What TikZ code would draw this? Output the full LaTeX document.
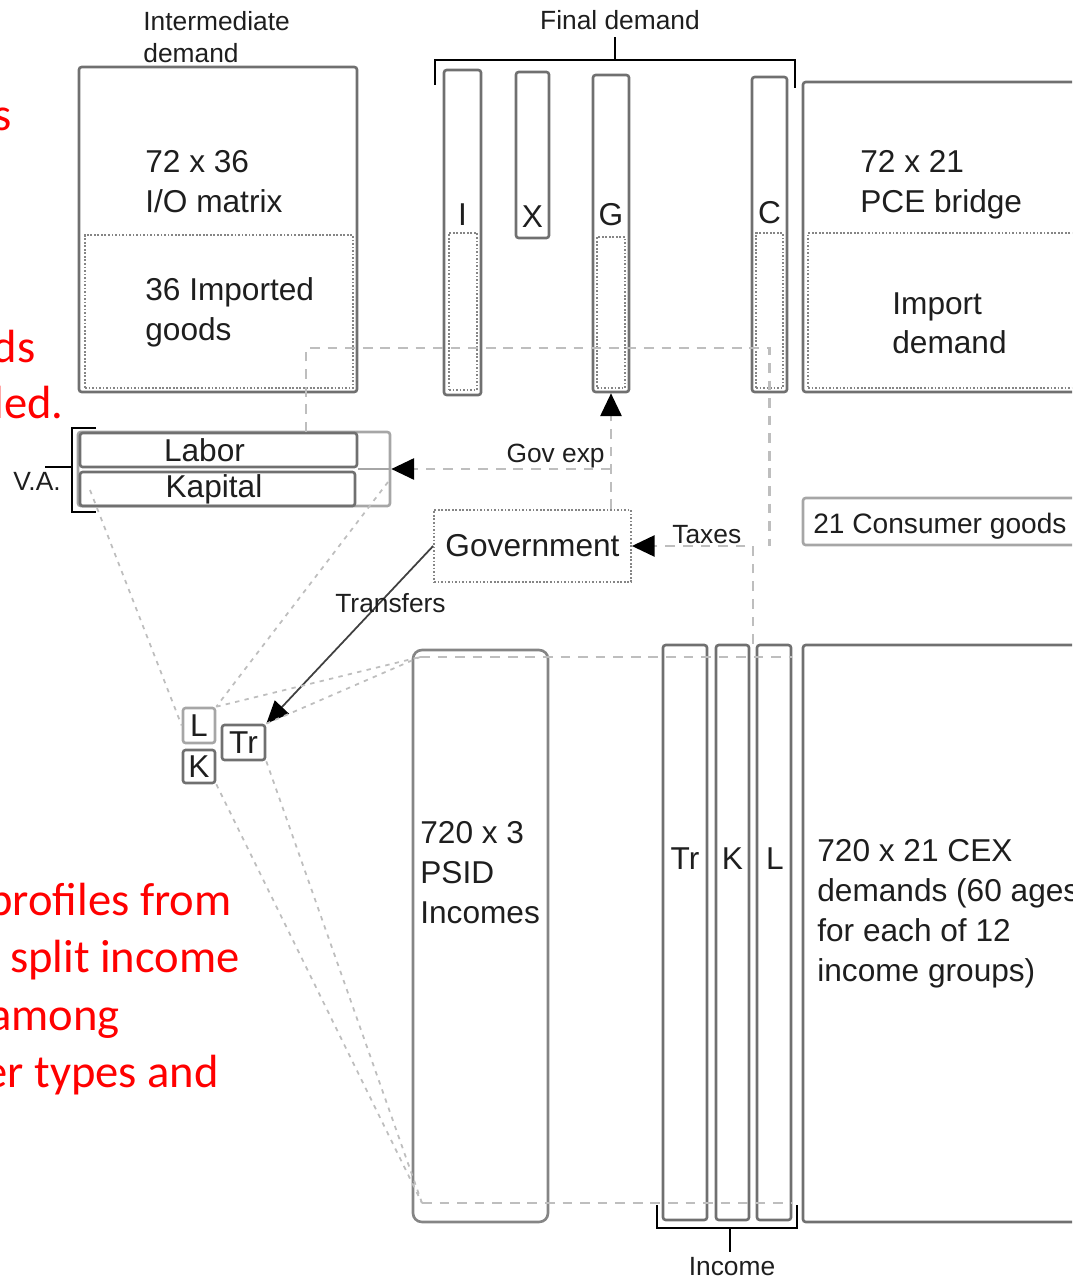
\documentclass[tikz,border=0pt]{standalone}
\usepackage{fontspec}
\setmainfont{Liberation Sans}
\newfontfamily\slidefont{Carlito}
\usetikzlibrary{arrows.meta,positioning,calc}
\definecolor{Ink}{HTML}{1E1E1E}
\definecolor{Frame}{HTML}{707070}
\definecolor{Soft}{HTML}{A6A6A6}
\definecolor{Link}{HTML}{BEBEBE}
\definecolor{Note}{HTML}{FF0000}
\tikzset{mat/.style={draw=Frame,line width=1.5pt,rounded corners=1.5pt,inner sep=0pt},imp/.style={draw=Frame!85,densely dotted,line width=1pt,inner sep=0pt},txt/.style={font=\fontsize{18}{22.7}\selectfont,text=Ink,inner sep=0pt,align=left},lab/.style={font=\fontsize{15}{18.1}\selectfont,text=Ink,inner sep=0pt,align=left},lnk/.style={draw=Link,line width=1.5pt,dash pattern=on 5.5pt off 4.5pt},fan/.style={draw=Link,line width=1pt,dash pattern=on 2.5pt off 3pt},tip/.style={-{Triangle[length=13pt,width=12pt,color=black]}},brk/.style={draw=black,line width=1.3pt},note/.style={font=\slidefont\fontsize{26.5}{32}\selectfont,text=Note,inner sep=0pt,anchor=base east}}

\begin{document}
\begin{tikzpicture}[x=0.02cm,y=-0.02cm]
\useasboundingbox (0,0) rectangle (1072,1277);
\clip (0,0) rectangle (1072,1277);
\node[note] (n1) at (12,131) {s};
\node[note] (n2) at (36,362) {ds};
\node[note] (n3) at (64,418) {led.};
\node[note] (n4) at (232,915) {profiles from};
\node[note] (n5) at (240,972) {split income};
\node[note] (n6) at (120,1030) {among};
\node[note] (n7) at (219,1087) {er types and};

\node[lab,anchor=north west] (inter) at (143,11) {Intermediate\\demand};
\node[mat,minimum width=5.56cm,minimum height=6.5cm] (io) at (218,229.5) {};
\node[imp,minimum width=5.36cm,minimum height=3.06cm] (ioimp) at (219,311.5) {};
\node[txt,anchor=north west] (iotxt) at (145,150) {72 x 36\\I/O matrix};
\node[txt,anchor=north west] (imptxt) at (145,277) {36 Imported\\goods};

\node[lab,anchor=base] (final) at (620,30) {Final demand};
\draw[brk] (435,85) -- (435,60) -- (795,60) -- (795,88);
\draw[brk] (615,60) -- (615,37);
\node[mat,minimum width=.74cm,minimum height=6.5cm] (colI) at (462.5,232.5) {};
\node[imp,minimum width=.56cm,minimum height=3.14cm] (impI) at (463,311.5) {};
\node[mat,minimum width=.66cm,minimum height=3.32cm] (colX) at (532.5,155) {};
\node[mat,minimum width=.72cm,minimum height=6.34cm] (colG) at (611,233.5) {};
\node[imp,minimum width=.56cm,minimum height=3.02cm] (impG) at (611,312.5) {};
\node[mat,minimum width=.70cm,minimum height=6.3cm] (colC) at (769.5,234.5) {};
\node[imp,minimum width=.54cm,minimum height=3.1cm] (impC) at (769.5,310.5) {};
\node[txt,anchor=base] (tI) at (462.5,225) {I};
\node[txt,anchor=base] (tX) at (532.5,228) {X};
\node[txt,anchor=base] (tG) at (611,226) {G};
\node[txt,anchor=base] (tC) at (769.5,223) {C};

\node[mat,minimum width=5.74cm,minimum height=6.2cm] (pce) at (946.5,237) {};
\node[imp,minimum width=5.64cm,minimum height=3.1cm] (pceimp) at (949,310.5) {};
\node[txt,anchor=north west] (pcetxt) at (860,150) {72 x 21\\PCE bridge};
\node[txt,anchor=north west] (imdtxt) at (892,292) {Import\\demand};

\node[mat,draw=Soft,minimum width=6.24cm,minimum height=1.48cm] (va) at (234,469) {};
\node[mat,txt,minimum width=5.54cm,minimum height=.68cm] (labor) at (218.5,450) {Labor\hspace{16pt}};
\node[mat,txt,minimum width=5.5cm,minimum height=.68cm] (kapital) at (217.5,489) {Kapital\hspace{4pt}};
\draw[draw=Soft,line width=1.5pt] (labor.east |- va.east) -- (va.east);
\draw[brk] (96,428) -- (72,428) -- (72,512) -- (96,512);
\draw[brk] (72,467) -- (45,467);
\node[lab] (valab) at (37,481) {V.A.};

\node[imp,txt,minimum width=3.94cm,minimum height=1.44cm] (gov) at (532.5,546) {Government};
\node[mat,txt,draw=Soft,minimum width=5.74cm,minimum height=.94cm] (cons) at (946.5,521.5) {};
\node[txt,font=\fontsize{16}{19}\selectfont,anchor=base west] (constxt) at (813,533) {21 Consumer goods};

\node[mat,txt,draw=Soft,minimum width=.64cm,minimum height=.7cm] (sL) at (199,725.5) {L};
\node[mat,txt,minimum width=.64cm,minimum height=.66cm] (sK) at (199,766.5) {K};
\node[mat,txt,minimum width=.86cm,minimum height=.7cm] (sTr) at (243.5,742.5) {Tr};

\node[mat,draw=Frame!85,rounded corners=5pt,minimum width=2.7cm,minimum height=11.44cm] (psid) at (480.5,936) {};
\node[txt,anchor=north west] (psidtxt) at (420,821) {720 x 3\\PSID\\Incomes};
\node[mat,minimum width=.88cm,minimum height=11.5cm] (inTr) at (685,932.5) {};
\node[mat,minimum width=.66cm,minimum height=11.5cm] (inK) at (732.5,932.5) {};
\node[mat,minimum width=.68cm,minimum height=11.5cm] (inL) at (774,932.5) {};
\node[txt,anchor=base] (tTr) at (685,869) {Tr};
\node[txt,anchor=base] (tK) at (732.5,869) {K};
\node[txt,anchor=base] (tL) at (775,869) {L};
\draw[brk] (657,1205) -- (657,1228) -- (797,1228) -- (797,1205);
\draw[brk] (730,1228) -- (730,1252);
\node[lab,anchor=north] (income) at (732,1257) {Income};
\node[mat,minimum width=5.74cm,minimum height=11.54cm] (cex) at (946.5,933.5) {};
\node[txt,anchor=north west] (cextxt) at (817,839) {720 x 21 CEX\\demands (60 ages\\for each of 12\\income groups)};

\coordinate (imc) at (306,348);
\coordinate (taxc) at (753,546);
\coordinate (vaL) at (90,490);
\coordinate (vaR) at (388,482);
\coordinate (ptl) at (420,657);
\coordinate (pbl) at (422,1203);
\draw[lnk] (labor.north -| imc) -- (imc) -- (imc -| colC) -- (colC |- taxc);
\draw[lnk,tip] (gov.north -| colG) -- (colG.south);
\draw[lnk,tip] (colG |- va.east) -- (va.east);
\node[lab,anchor=base east] (govexp) at (605,462) {Gov exp};
\draw[lnk,tip] (taxc |- inL.north) -- (taxc) -- (gov.east);
\node[lab,anchor=base west] (taxes) at (672,543) {Taxes};
\draw[draw=Ink!85,line width=1pt,-{Triangle[length=13pt,width=11pt,color=black]}] (gov.west) -- (sTr.north east);
\node[lab,anchor=base west] (transfers) at (335,612) {Transfers};
\draw[fan] (vaL) -- (sL.west);
\draw[fan] (vaR) -- (sL.north east);
\draw[fan] (sL.north east) -- (ptl);
\draw[fan] (sTr.north east) -- (ptl);
\draw[fan] (sK.south east) -- (pbl);
\draw[fan] (sTr.south east) -- (pbl);
\draw[lnk] (ptl) -- (ptl -| inL.east);
\draw[lnk] (pbl) -- (pbl -| inL.east);
\end{tikzpicture}
\end{document}
